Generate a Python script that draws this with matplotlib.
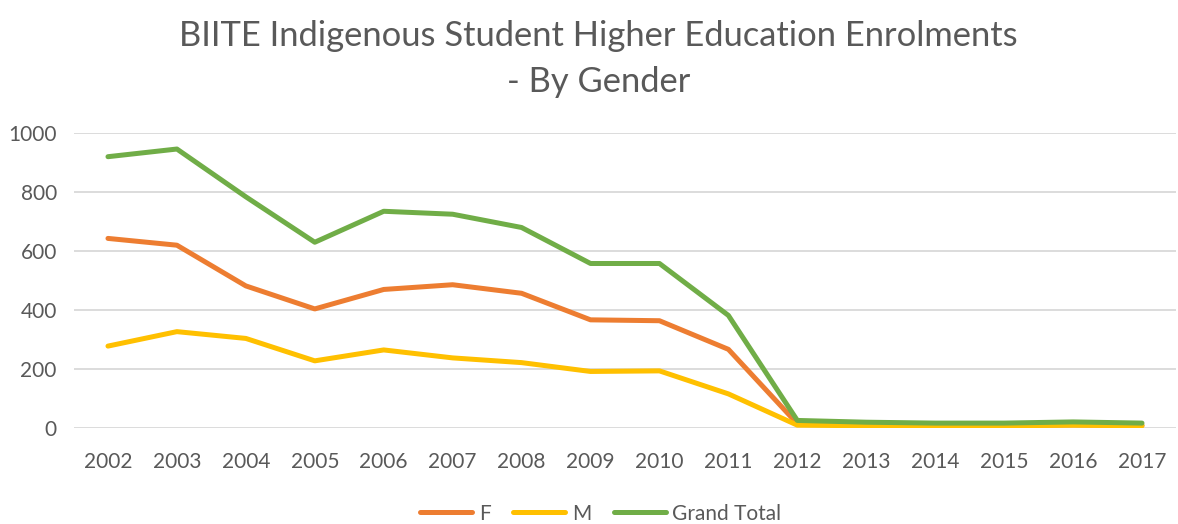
import matplotlib
matplotlib.use("Agg")
import matplotlib.pyplot as plt

years = ["2002", "2003", "2004", "2005", "2006", "2007", "2008", "2009",
         "2010", "2011", "2012", "2013", "2014", "2015", "2016", "2017"]
female = [643, 620, 482, 404, 470, 486, 457, 367, 364, 267, 15, 10, 9, 9, 11, 9]
male = [278, 327, 304, 228, 265, 238, 222, 192, 194, 116, 10, 8, 8, 8, 10, 8]
grand_total = [920, 946, 784, 630, 735, 725, 680, 558, 558, 382, 26, 20, 17, 17, 21, 17]

plt.rcParams['font.family'] = ['Lato', 'DejaVu Sans']

fig = plt.figure(figsize=(11.78, 5.24), dpi=100)
ax = fig.add_axes([0.0624, 0.183, 0.9363, 0.563])

x = list(range(len(years)))
ax.plot(x, female, color="#ED7D31", lw=3.6, label="F", solid_capstyle="round", solid_joinstyle="round")
ax.plot(x, male, color="#FFC000", lw=3.6, label="M", solid_capstyle="round", solid_joinstyle="round")
ax.plot(x, grand_total, color="#70AD47", lw=3.6, label="Grand Total", solid_capstyle="round", solid_joinstyle="round")

ax.set_xlim(-0.5, len(years) - 0.5)
ax.set_ylim(0, 1000)
ax.set_yticks([0, 200, 400, 600, 800, 1000])
ax.set_xticks(x)
ax.set_xticklabels(years)
ax.grid(axis="y", color="#D9D9D9", lw=1.3)
ax.set_axisbelow(True)
for s in ax.spines.values():
    s.set_visible(False)
ax.tick_params(axis="both", length=0, labelsize=15, colors="#595959")
ax.tick_params(axis="x", pad=17)
ax.tick_params(axis="y", pad=12)

fig.text(0.508, 0.962, "BIITE Indigenous Student Higher Education Enrolments\n- By Gender",
         ha="center", va="top", fontsize=24.8, color="#595959", linespacing=1.55)

leg = fig.legend(loc="center", bbox_to_anchor=(0.51, 0.02), ncol=3, frameon=False,
                 fontsize=15, handlelength=2.5, columnspacing=1.1, handletextpad=0.3)
for t in leg.get_texts():
    t.set_color("#595959")

fig.savefig("out.png", dpi=100, facecolor="white")
